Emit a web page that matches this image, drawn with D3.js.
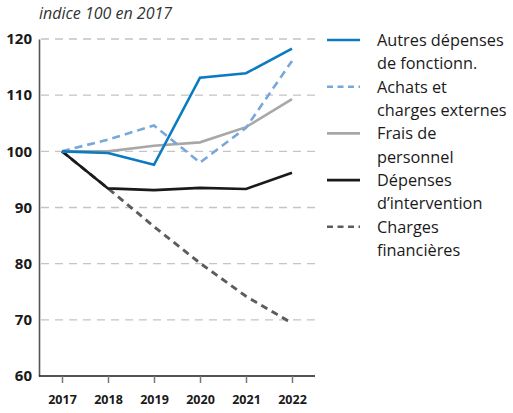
<!DOCTYPE html>
<html lang="fr">
<head>
<meta charset="utf-8">
<title>Indice 100 en 2017</title>
<script src="https://d3js.org/d3.v7.min.js"></script>
<style>
  body { margin: 0; background: #fff; }
  svg text { font-family: "Open Sans", "Noto Sans", sans-serif; fill: #1a1a1a; }
</style>
</head>
<body>
<div id="chart"></div>
<script>
// data
var years = [2017, 2018, 2019, 2020, 2021, 2022];
var yTicks = [60, 70, 80, 90, 100, 110, 120];

var autresDepenses = [100, 99.7, 97.6, 113.1, 113.9, 118.3];
var achatsCharges  = [100, 102.1, 104.6, 98.0, 104.2, 116.1];
var fraisPersonnel = [100, 100, 101.0, 101.6, 104.3, 109.3];
var depensesInterv = [100, 93.4, 93.1, 93.5, 93.3, 96.2];
var chargesFin     = [100, 93.4, 86.6, 80.1, 74.2, 69.4];

var seriesNames = [
  ["Autres dépenses", "de fonctionn."],
  ["Achats et", "charges externes"],
  ["Frais de", "personnel"],
  ["Dépenses", "d\u2019intervention"],
  ["Charges", "financières"]
];

// styles for each series (drawing order: back to front)
var series = [
  {name: seriesNames[4], values: chargesFin,     color: "#5c5c5c", dash: "7,5", w: 2.9},
  {name: seriesNames[3], values: depensesInterv, color: "#1a1a1a", dash: null,  w: 2.6},
  {name: seriesNames[2], values: fraisPersonnel, color: "#a8a8a8", dash: null,  w: 2.6},
  {name: seriesNames[1], values: achatsCharges,  color: "#78a8db", dash: "8,5", w: 2.6},
  {name: seriesNames[0], values: autresDepenses, color: "#0b7bc1", dash: null,  w: 2.6}
];

var width = 513, height = 413;
var margin = {top: 39, left: 39, bottom: 37, right: 198};

var svg = d3.select("#chart").append("svg")
    .attr("width", width)
    .attr("height", height);

var x = d3.scalePoint()
    .domain(years)
    .range([62, 292]);

var y = d3.scaleLinear()
    .domain([60, 120])
    .range([height - margin.bottom, margin.top]);

var xEnd = 315;

// title
svg.append("text")
    .attr("x", 39)
    .attr("y", 19)
    .style("font-style", "italic")
    .style("font-size", "16px")
    .style("fill", "#333")
    .text("indice 100 en 2017");

// gridlines
svg.append("g")
  .selectAll("line")
  .data(yTicks.filter(function(d) { return d > 60; }))
  .enter().append("line")
    .attr("x1", margin.left + 2)
    .attr("x2", xEnd)
    .attr("y1", function(d) { return y(d); })
    .attr("y2", function(d) { return y(d); })
    .style("stroke", "#c4c4c4")
    .style("stroke-width", 1.3)
    .style("stroke-dasharray", "8,6");

// y axis
var yAxis = svg.append("g")
    .attr("transform", "translate(" + margin.left + ",0)")
    .call(d3.axisLeft(y).tickValues(yTicks).tickSize(0).tickPadding(7));
yAxis.select(".domain").style("stroke", "#555").style("stroke-width", 1.6);
yAxis.selectAll("text")
    .style("font-size", "15px")
    .style("font-weight", "bold")
    .style("fill", "#1a1a1a");

// x axis
var xAxis = svg.append("g")
    .attr("transform", "translate(0," + y(60) + ")")
    .call(d3.axisBottom(x).tickSize(7).tickPadding(12).tickFormat(d3.format("d")));
xAxis.select(".domain")
    .attr("d", "M" + margin.left + ",0H" + xEnd)
    .style("stroke", "#1a1a1a")
    .style("stroke-width", 1.6);
xAxis.selectAll(".tick line").style("stroke", "#777").style("stroke-width", 1.5);
xAxis.selectAll("text")
    .style("font-size", "12.5px")
    .style("font-weight", "bold")
    .style("fill", "#1a1a1a");

// lines
var line = d3.line()
    .x(function(d, i) { return x(years[i]); })
    .y(function(d) { return y(d); });

svg.append("g")
  .selectAll("path")
  .data(series)
  .enter().append("path")
    .attr("d", function(d) { return line(d.values); })
    .style("fill", "none")
    .style("stroke", function(d) { return d.color; })
    .style("stroke-width", function(d) { return d.w; })
    .style("stroke-dasharray", function(d) { return d.dash; });

// legend
var legend = svg.append("g")
    .attr("transform", "translate(327,40)");

var entries = legend.selectAll("g")
  .data(series.slice().reverse())
  .enter().append("g")
    .attr("transform", function(d, i) { return "translate(0," + (i * 46.7) + ")"; });

entries.append("line")
    .attr("x1", 0)
    .attr("x2", 33)
    .style("stroke", function(d) { return d.color; })
    .style("stroke-width", 2.6)
    .style("stroke-dasharray", function(d) { return d.dash ? "6,4.5" : null; });

entries.append("text")
    .attr("x", 50)
    .attr("y", 6)
    .style("font-size", "16.3px")
    .selectAll("tspan")
    .data(function(d) { return d.name; })
    .enter().append("tspan")
      .attr("x", 50)
      .attr("dy", function(d, i) { return i === 0 ? 0 : 23.3; })
      .text(function(d) { return d; });
</script>
</body>
</html>
